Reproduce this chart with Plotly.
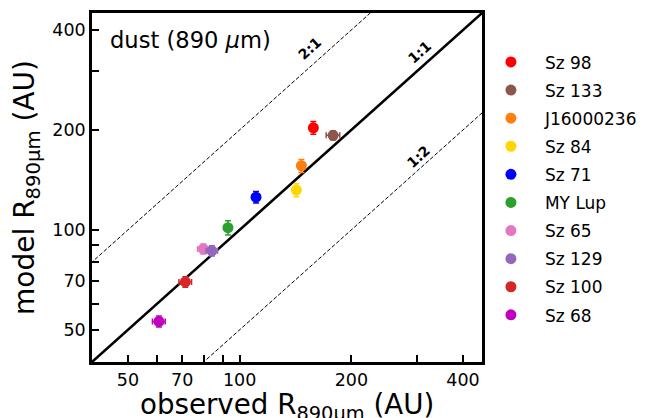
import numpy as np
import plotly.graph_objects as go

names = ["Sz 98", "Sz 133", "J16000236", "Sz 84", "Sz 71", "MY Lup", "Sz 65", "Sz 129", "Sz 100", "Sz 68"]
obs_r = [158, 178.6, 146.7, 142.2, 110.7, 93.0, 79.8, 84.2, 71.4, 60.6]
model_r = [203, 192.6, 156, 131.8, 125.5, 101.5, 87.6, 86.5, 69.7, 53.0]
obs_err = [3, 7.5, 3, 3, 2.5, 2, 2.8, 3.0, 2.8, 2.4]
model_err = [9, 6, 7, 6, 5, 5, 3, 3, 2.5, 2]
colors = ["#ff0000", "#8c564b", "#ff7f0e", "#ffd700", "#0000ff", "#2ca02c", "#e377c2", "#9467bd", "#d62728", "#bf00bf"]

ratios = [2.0, 1.0, 0.5]
ratio_labels = ["2:1", "1:1", "1:2"]
label_pos_x = [154.7, 306, 302.5]
label_pos_y = [352.9, 343, 165.7]

tick_vals = [50, 60, 70, 80, 90, 100, 200, 300, 400]
tick_text = ["50", "", "70", "", "", "100", "200", "", "400"]
axis_range = [40, 450]

fig = go.Figure()

line_x = [30, 600]
for r in ratios:
    fig.add_trace(go.Scatter(
        x=line_x, y=[v * r for v in line_x], mode="lines", showlegend=False,
        line=dict(color="black", width=2.5 if r == 1 else 1, dash="solid" if r == 1 else "4px,2px"),
        hoverinfo="skip"))

for i, n in enumerate(names):
    fig.add_trace(go.Scatter(
        x=[obs_r[i]], y=[model_r[i]], mode="markers", name=n, legendgroup=n,
        marker=dict(color=colors[i], size=11),
        error_x=dict(type="data", array=[obs_err[i]], color=colors[i], thickness=1.5, width=3),
        error_y=dict(type="data", array=[model_err[i]], color=colors[i], thickness=1.5, width=3),
    ))

for lab, lx, ly in zip(ratio_labels, label_pos_x, label_pos_y):
    fig.add_annotation(x=np.log10(lx), y=np.log10(ly), text="<b>" + lab + "</b>", showarrow=False,
                       textangle=-42, font=dict(size=14, color="black", family="DejaVu Sans"))

fig.add_annotation(xref="paper", yref="paper", x=0.041, y=0.9226, xanchor="left", yanchor="middle",
                   text="dust (890 <i>μ</i>m)", showarrow=False,
                   font=dict(size=22.6, color="black", family="DejaVu Sans"))

# x-axis title as a paper-anchored annotation for exact vertical placement
fig.add_annotation(xref="paper", yref="paper", x=0.5, y=-0.0684, xanchor="center", yanchor="top",
                   text="observed R<sub>890μm</sub> (AU)", showarrow=False,
                   font=dict(size=27.7, color="black", family="DejaVu Sans"))

axis_common = dict(
    type="log", range=[np.log10(axis_range[0]), np.log10(axis_range[1])],
    tickvals=tick_vals, ticktext=tick_text, ticks="inside", ticklen=7, tickwidth=2,
    tickcolor="black", showline=True, linecolor="black", linewidth=2.5, mirror=True,
    showgrid=False, zeroline=False, automargin=False,
    tickfont=dict(size=17.5, color="black", family="DejaVu Sans"),
)

fig.update_xaxes(**axis_common)
fig.update_yaxes(**axis_common,
                 title=dict(text="model R<sub>890μm</sub> (AU)",
                            font=dict(size=28, color="black", family="DejaVu Sans")))

fig.update_layout(
    width=641, height=410,
    margin=dict(l=84, r=167, t=5, b=56, autoexpand=False),
    plot_bgcolor="white", paper_bgcolor="white",
    font=dict(family="DejaVu Sans", color="black"),
    legend=dict(x=0.987, y=0.91, xanchor="left", yanchor="top", font=dict(size=17),
                tracegroupgap=3, itemwidth=58, bgcolor="rgba(0,0,0,0)"),
)

fig.write_html("out.html")
